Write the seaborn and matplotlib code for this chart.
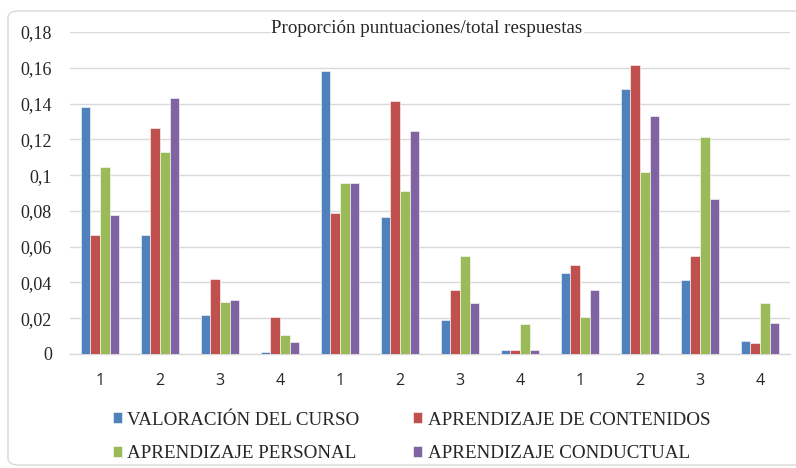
import matplotlib
matplotlib.use("Agg")
import matplotlib.pyplot as plt
from matplotlib.patches import FancyBboxPatch
from matplotlib.ticker import FuncFormatter, MultipleLocator
import pandas as pd
import seaborn as sns

# Score labels for each of the twelve groups (three blocks of 1-4)
puntuaciones = ["1", "2", "3", "4", "1", "2", "3", "4", "1", "2", "3", "4"]

series_names = [
    "VALORACIÓN DEL CURSO",
    "APRENDIZAJE DE CONTENIDOS",
    "APRENDIZAJE PERSONAL",
    "APRENDIZAJE CONDUCTUAL",
]

valoracion_curso = [0.138, 0.0665, 0.0217, 0.0013, 0.1583, 0.0767, 0.0190, 0.0020, 0.0453, 0.1484, 0.0412, 0.0070]
aprendizaje_contenidos = [0.0665, 0.1264, 0.0418, 0.0207, 0.0787, 0.1415, 0.0358, 0.0020, 0.0500, 0.1618, 0.0548, 0.0059]
aprendizaje_personal = [0.1044, 0.1128, 0.0291, 0.0106, 0.0957, 0.0910, 0.0550, 0.0165, 0.0206, 0.1017, 0.1212, 0.0283]
aprendizaje_conductual = [0.0775, 0.1431, 0.0301, 0.0066, 0.0957, 0.1246, 0.0287, 0.0020, 0.0356, 0.1329, 0.0866, 0.0171]

colors = ["#4F81BD", "#C0504D", "#9BBB59", "#8064A2"]

# Long-form table for seaborn
grupos = list(range(len(puntuaciones)))
frames = []
for name, vals in zip(series_names, [valoracion_curso, aprendizaje_contenidos,
                                     aprendizaje_personal, aprendizaje_conductual]):
    frames.append(pd.DataFrame({"grupo": grupos, "serie": name, "valor": vals}))
df = pd.concat(frames, ignore_index=True)

sns.set_style("white")
plt.rcParams["font.family"] = ["Liberation Serif", "DejaVu Serif"]

W, H = 796, 468
fig = plt.figure(figsize=(W / 100, H / 100), dpi=100)

# Rounded chart frame, kept behind everything else (top at 11 px, bottom at 465 px)
frame = FancyBboxPatch((8 / W, 3 / H), (W + 20 - 8) / W, (465 - 11) / H,
                       boxstyle="round,pad=0,rounding_size=0.014",
                       transform=fig.transFigure, facecolor="white",
                       edgecolor="#D9D9D9", linewidth=1.0, zorder=-10)
fig.patches.append(frame)

ax = fig.add_axes([70 / W, 1 - 354 / H, 720 / W, (354 - 32) / H])
ax.set_zorder(1)
ax.patch.set_alpha(0)

sns.barplot(data=df, x="grupo", y="valor", hue="serie", hue_order=series_names,
            palette=colors, width=0.645, gap=0, ax=ax, errorbar=None,
            edgecolor="#FFFFFF", linewidth=0.4, saturation=1, zorder=3)

ax.set_ylim(0, 0.18)
ax.set_xlim(-0.5, len(puntuaciones) - 0.5)
ax.yaxis.set_major_locator(MultipleLocator(0.02))


def fmt(v, pos):
    s = f"{v:.2f}".rstrip("0").rstrip(".")
    return s.replace(".", ",")


ax.yaxis.set_major_formatter(FuncFormatter(fmt))
ax.grid(axis="y", color="#D9D9D9", linewidth=1.0, zorder=0)
ax.set_axisbelow(True)
for side in ["top", "right", "left"]:
    ax.spines[side].set_visible(False)
ax.spines["bottom"].set_color("#D9D9D9")
ax.spines["bottom"].set_linewidth(1.0)

ax.set_xticks(grupos)
ax.set_xticklabels(puntuaciones, fontfamily="Open Sans", fontsize=11.5, color="#262626")
ax.tick_params(axis="x", length=0, pad=14)
ax.tick_params(axis="y", length=0, pad=13, labelsize=13, labelcolor="#262626")
ax.set_xlabel("")
ax.set_ylabel("")

# Title sits on the top gridline with a white backing
fig.text(427 / W, 1 - 33 / H, "Proporción puntuaciones/total respuestas",
         ha="center", va="baseline", fontsize=13.7, color="#262626",
         bbox=dict(facecolor="white", edgecolor="none", pad=1.0), zorder=5)

# Legend in two rows below the plot (row-major order)
handles, labels = ax.get_legend_handles_labels()
ax.legend_.remove()
order = [0, 2, 1, 3]
fig.legend([handles[i] for i in order], [labels[i] for i in order],
           ncol=2, loc="upper left",
           bbox_to_anchor=(103 / W, 1 - 402 / H), frameon=False,
           fontsize=13.7, handlelength=0.48, handleheight=0.53,
           handletextpad=0.27, columnspacing=2.85, labelspacing=0.86,
           borderpad=0, labelcolor="#262626")

fig.savefig("out.png", dpi=100)
